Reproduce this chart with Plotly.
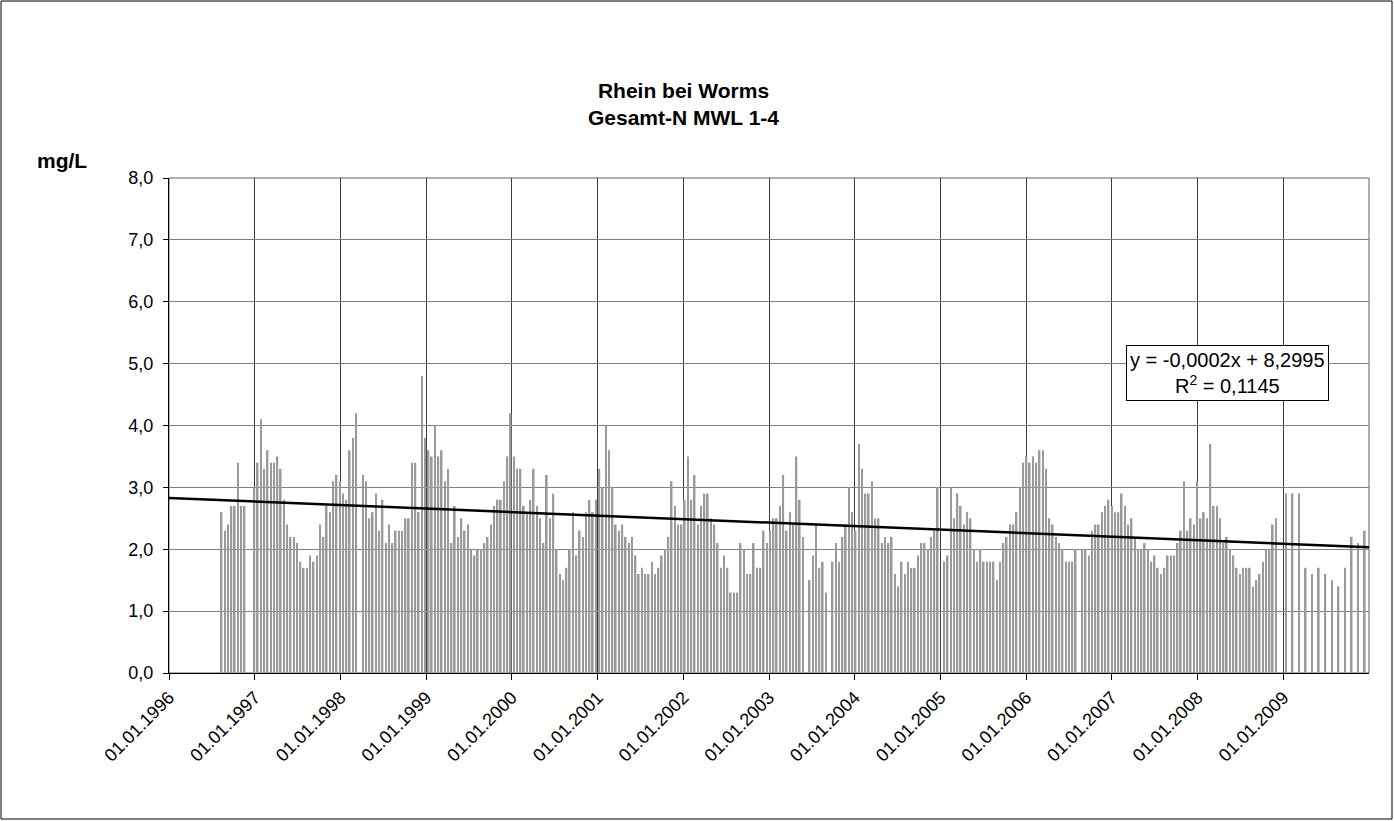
import pandas as pd
import plotly.graph_objects as go

# Gesamt-N (mg/L), 14-day composite samples, Rhein bei Worms
first_sample = "1996-08-12"
sample_step_days = 14
gesamt_n = [
    2.6, 2.3, 2.4, 2.7, 2.7, 3.4, 2.7, 2.7, None, None, 3.0, 3.4, 4.1, 3.3, 3.6, 3.4,
    3.4, 3.5, 3.3, 2.8, 2.4, 2.2, 2.2, 2.1, 1.8, 1.7, 1.7, 1.9, 1.8, 1.9,
    2.4, 2.2, 2.7, 2.6, 3.1, 3.2, 3.1, 2.9, 2.8, 3.6, 3.8, 4.2, None, 3.2, 3.1, 2.5,
    2.6, 2.9, 2.3, 2.8, 2.1, 2.4, 2.1, 2.3, 2.3, 2.3, 2.5, 2.5, 3.4, 3.4, 2.6, 4.8,
    3.8, 3.6, 3.5, 4.0, 3.5, 3.6, 3.1, 3.3, 2.1, 2.7, 2.2, 2.5, 2.3, 2.4, 2.0, 1.9,
    2.0, 2.0, 2.1, 2.2, 2.4, 2.7, 2.8, 2.8, 3.1, 3.5, 4.2, 3.5, 3.3, 3.3, 2.7, 2.6,
    2.8, 3.3, 2.7, 2.5, 2.1, 3.2, 2.5, 2.9, 2.0, 1.6, 1.5, 1.7, 2.0, 2.6, 1.9, 2.3,
    2.2, 2.6, 2.8, 2.6, 2.8, 3.3, 3.0, 4.0, 3.6, 3.0, 2.4, 2.3, 2.4, 2.2, 2.1, 2.2,
    1.9, 1.6, 1.7, 1.6, 1.6, 1.8, 1.6, 1.7, 1.9, 2.0, 2.2, 3.1, 2.7, 2.4, 2.4, 2.8,
    3.5, 2.8, 3.2, 2.4, 2.7, 2.9, 2.9, 2.5, 2.4, 2.1, 1.7, 1.9, 1.7, 1.3, 1.3, 1.3,
    2.1, 2.0, 1.6, 1.6, 2.1, 1.7, 1.7, 2.3, 2.1, 2.3, 2.5, 2.5, 2.7, 3.2, 2.3, 2.6,
    2.4, 3.5, 2.8, 2.2, None, 1.5, 1.9, 2.4, 1.7, 1.8, 1.3, None, 1.8, 2.1, 1.8, 2.2,
    2.4, 3.0, 2.6, 2.3, 3.7, 3.3, 2.9, 2.9, 3.1, 2.5, 2.5, 2.1, 2.2, 2.1, 2.2, 1.6,
    1.4, 1.8, 1.6, 1.8, 1.7, 1.7, 1.9, 2.1, 2.1, 2.0, 2.2, 2.3, 3.0, None, 1.8, 1.9,
    3.0, 2.5, 2.9, 2.7, 2.4, 2.6, 2.5, 2.0, 1.8, 2.0, 1.8, 1.8, 1.8, 1.8, 1.5, 1.8,
    2.1, 2.2, 2.4, 2.4, 2.6, 3.0, 3.4, 3.5, 3.4, 3.5, 3.4, 3.6, 3.6, 3.3, 2.5, 2.4,
    2.2, 2.1, 2.0, 1.8, 1.8, 1.8, 2.0, None, 2.0, 2.0, 1.9, 2.3, 2.4, 2.4, 2.6, 2.7,
    2.8, 2.7, 2.6, 2.6, 2.9, 2.7, 2.4, 2.5, 2.2, 2.0, 2.0, 2.1, 2.0, 1.8, 1.9, 1.7,
    1.6, 1.7, 1.9, 1.9, 1.9, 2.1, 2.3, 3.1, 2.3, 2.5, 2.4, 3.1, 2.5, 2.6, 2.5, 3.7,
    2.7, 2.7, 2.5, 2.1, 2.2, 2.0, 1.9, 1.7, 1.6, 1.7, 1.7, 1.7, 1.4, 1.5, 1.6,
    1.8, 2.0, 2.0, 2.4, 2.5, None, None, 2.9, None, 2.9, None, 2.9, None, 1.7, None, 1.6,
    None, 1.7, None, 1.6, None, 1.5, None, 1.4, None, 1.7, None, 2.2, None, 2.1, None, 2.3,
]
sample_dates = pd.date_range(first_sample, periods=len(gesamt_n), freq=f"{sample_step_days}D")

# axis ticks
year_ticks = [f"{y}-01-01" for y in range(1996, 2010)]
year_labels = [f"01.01.{y}" for y in range(1996, 2010)]
y_ticks = [0, 1, 2, 3, 4, 5, 6, 7, 8]
y_labels = [f"{v:.1f}".replace(".", ",") for v in y_ticks]

# linear trend on spreadsheet date serials
TREND_SLOPE = -0.000156
TREND_INTERCEPT = 8.2995
trend_dates = pd.to_datetime(["1996-01-01", "2010-01-01"])
trend_serial = (trend_dates - pd.Timestamp("1899-12-30")).days
trend_values = [TREND_INTERCEPT + TREND_SLOPE * s for s in trend_serial]

FONT = "Liberation Sans, Arial, sans-serif"
W, H = 1394, 821
L, R, T, B = 169, 25, 178, 148
pw, ph = W - L - R, H - T - B


def px(x):
    return (x - L) / pw


def py(y):
    return (H - B - y) / ph


fig = go.Figure()
fig.add_trace(go.Bar(
    x=sample_dates, y=gesamt_n,
    width=7 * 86400000,
    marker=dict(color="#9a9a9a", line=dict(width=0)),
    hoverinfo="x+y", showlegend=False,
))
fig.add_trace(go.Scatter(
    x=trend_dates, y=trend_values, mode="lines",
    line=dict(color="black", width=2.5), showlegend=False, hoverinfo="skip",
))

fig.update_layout(
    width=W, height=H, autosize=False,
    margin=dict(l=L, r=R, t=T, b=B, pad=0),
    paper_bgcolor="white", plot_bgcolor="white",
    font=dict(family=FONT, color="black", size=18),
    xaxis=dict(
        type="date", range=["1996-01-01", "2010-01-01"],
        tickmode="array", tickvals=year_ticks, ticktext=year_labels,
        tickangle=-45, tickfont=dict(size=18),
        showgrid=True, gridcolor="#3c3c3c", gridwidth=1,
        showline=True, linecolor="black", linewidth=1,
        ticks="outside", ticklen=6, tickcolor="black",
        zeroline=False,
    ),
    yaxis=dict(
        range=[0, 8], tickmode="array", tickvals=y_ticks, ticktext=y_labels,
        tickfont=dict(size=18), ticklabelstandoff=6,
        showgrid=True, gridcolor="#808080", gridwidth=1,
        showline=True, linecolor="black", linewidth=1,
        ticks="outside", ticklen=5, tickcolor="black",
        zeroline=False,
    ),
    shapes=[
        dict(type="rect", xref="paper", yref="paper", x0=0, x1=1, y0=0, y1=1,
             line=dict(color="#606060", width=1), layer="below"),
        dict(type="rect", xref="paper", yref="paper",
             x0=px(1), x1=px(W - 2), y0=py(H - 2), y1=py(1),
             line=dict(color="black", width=1)),
    ],
    annotations=[
        dict(text="<b>Rhein bei Worms<br>Gesamt-N MWL 1-4</b>", xref="paper", yref="paper",
             x=px(683), y=py(104), xanchor="center", yanchor="middle",
             showarrow=False, font=dict(size=21, family=FONT)),
        dict(text="<b>mg/L</b>", xref="paper", yref="paper",
             x=px(62), y=py(160), xanchor="center", yanchor="middle",
             showarrow=False, font=dict(size=21, family=FONT)),
        dict(text="y = -0,0002x + 8,2995<br>R<sup>2</sup> = 0,1145", xref="paper", yref="paper",
             x=px(1227), y=py(373), xanchor="center", yanchor="middle",
             showarrow=False, align="center", font=dict(size=20, family=FONT),
             bgcolor="white", bordercolor="black", borderwidth=1, borderpad=3),
    ],
)

fig.write_html("out.html")
